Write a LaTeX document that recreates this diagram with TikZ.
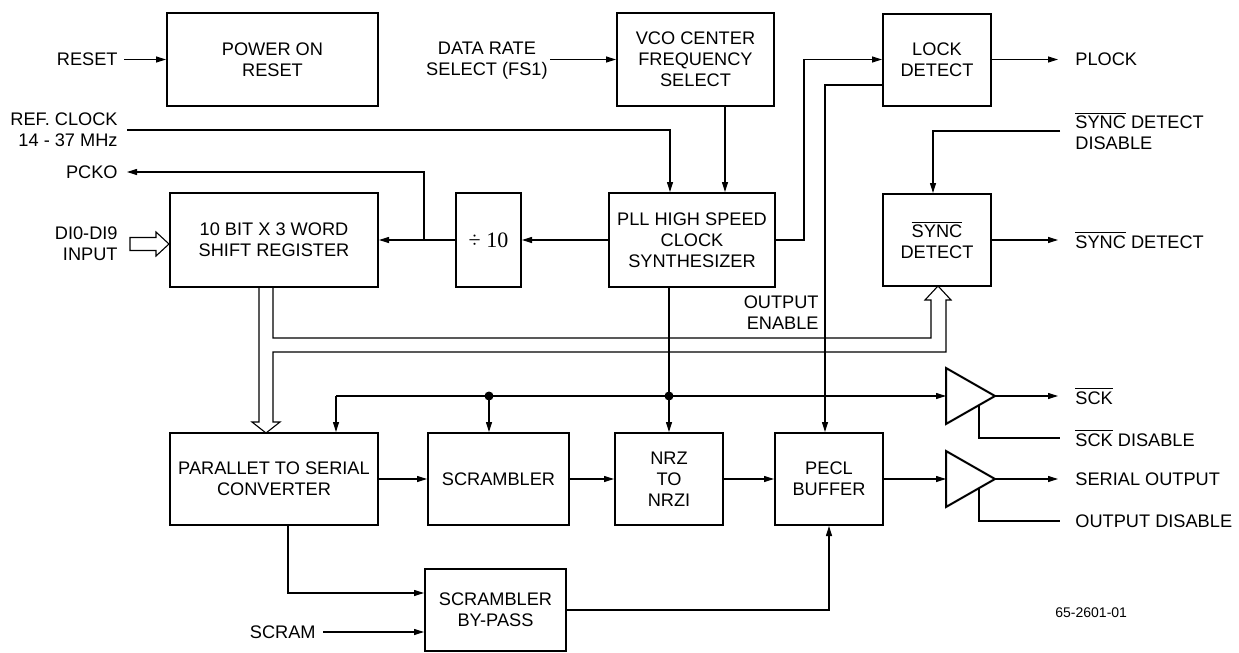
\documentclass[tikz,border=0pt]{standalone}
\usepackage{fontspec}
\setmainfont{Liberation Sans}
\newfontfamily\serifdiv{Liberation Serif}
\usetikzlibrary{arrows.meta}
\newcommand{\ovl}[1]{$\overline{\mbox{#1}}$}
\begin{document}
\begin{tikzpicture}[x=0.5pt,y=-0.5pt,
  every node/.style={font=\fontsize{9.1}{10.5}\selectfont},
  blk/.style={draw,line width=1pt,align=center,inner sep=0pt},
  con/.style={line width=0.55pt},
  arr/.style={con,-{Triangle[length=5pt,width=3pt]}},
  lbl/.style={inner sep=0pt,align=left,anchor=west},
  lblr/.style={inner sep=0pt,align=right,anchor=east},
  jdot/.style={circle,fill,inner sep=0pt,minimum size=4.5pt},
  buf/.style={line width=1pt,line join=miter}]
\useasboundingbox (0,0) rectangle (1239,653);

% blocks
\node[blk,minimum width=105.5pt,minimum height=46.5pt] (por) at (272.5,59.5) {POWER ON\\RESET};
\node[blk,minimum width=78.5pt,minimum height=46.5pt] (vco) at (695.5,59.5) {VCO CENTER\\FREQUENCY\\SELECT};
\node[blk,minimum width=54pt,minimum height=46pt] (lock) at (937,59.5) {LOCK\\DETECT};
\node[blk,minimum width=104pt,minimum height=47pt] (sr) at (274,240) {10 BIT X 3 WORD\\SHIFT REGISTER};
\node[blk,minimum width=32.5pt,minimum height=47pt,font=\serifdiv\fontsize{11}{12}\selectfont] (div) at (488.5,240) {÷ 10};
\node[blk,minimum width=83pt,minimum height=47pt] (pll) at (692,240) {PLL HIGH SPEED\\CLOCK\\SYNTHESIZER};
\node[blk,minimum width=54pt,minimum height=46pt] (sync) at (937,240) {\ovl{SYNC}\\DETECT};
\node[blk,minimum width=104pt,minimum height=46pt] (ps) at (274,479) {PARALLET TO SERIAL\\CONVERTER};
\node[blk,minimum width=70.5pt,minimum height=46pt] (scr) at (498.5,479) {SCRAMBLER};
\node[blk,minimum width=54pt,minimum height=46pt] (nrz) at (669,479) {NRZ\\TO\\NRZI};
\node[blk,minimum width=54pt,minimum height=46pt] (pecl) at (829,479) {PECL\\BUFFER};
\node[blk,minimum width=70.5pt,minimum height=41pt] (byp) at (495.5,610) {SCRAMBLER\\BY-PASS};

% labels
\node[lblr] (rst) at (118,59.5) {RESET};
\node[lblr] (refc) at (118,130) {REF. CLOCK\\14 - 37 MHz};
\node[lblr] (pcko) at (118,172) {PCKO};
\node[lblr] (di) at (118,244) {DI0-DI9\\INPUT};
\node[lblr] (scram) at (316,632) {SCRAM};
\node[align=center,inner sep=0pt,anchor=east] (drs) at (548,61) {DATA RATE\\SELECT (FS1)};
\node[lblr] (oe) at (819,313) {OUTPUT\\ENABLE};
\node[lbl] (plock) at (1075,59.5) {PLOCK};
\node[lbl] (sdd) at (1075,131) {\ovl{SYNC} DETECT\\DISABLE};
\node[lbl] (sdo) at (1075,240) {\ovl{SYNC} DETECT};
\node[lbl] (sck) at (1075,396) {\ovl{SCK}};
\node[lbl] (sckd) at (1075,438) {\ovl{SCK} DISABLE};
\node[lbl] (ser) at (1075,479) {SERIAL OUTPUT};
\node[lbl] (od) at (1075,521) {OUTPUT DISABLE};
\node[lbl,font=\fontsize{7}{8}\selectfont] (fig) at (1055,613) {65-2601-01};

% helper coordinates
\coordinate (refx) at (670,0);
\coordinate (vcox) at (725,0);
\coordinate (pj) at (424,240);
\coordinate (lkx) at (804,0);
\coordinate (oes) at (883,85);
\coordinate (oex) at (825,0);
\coordinate (sdx) at (933,0);
\coordinate (clk) at (0,396);
\coordinate (psx) at (336,0);
\coordinate (scx) at (489,0);
\coordinate (psb) at (288,0);
\coordinate (bya) at (0,593);
\coordinate (t1l) at (946,396);
\coordinate (t1a) at (995,396);
\coordinate (t1b) at (979,405);
\coordinate (t2l) at (946,479);
\coordinate (t2a) at (995,479);
\coordinate (t2b) at (979,488);

% top connectors
\draw[arr,shorten <=3pt] (rst.east) -- (rst.east -| por.west);
\draw[arr,shorten <=1pt] (drs.east |- vco.west) -- (vco.west);
\draw[arr,shorten <=4.5pt] (refc.east) -| (pll.north -| refx);
\draw[arr] (vco.south -| vcox) -- (pll.north -| vcox);
\draw[arr] (pll.west) -- (div.west -| div.east);
\draw[arr] (div.west) -- (sr.east);
\draw[arr,shorten >=4.5pt] (pj) |- (pcko.east);
\draw[arr] (pll.east) -- (pll.east -| lkx) |- (lock.west);
\draw[arr,shorten >=8.5pt] (lock.east) -- (plock.west);
\draw[arr] (oes) -| (pecl.north -| oex);
\draw[arr,shorten <=7.5pt] (sdd.west) -| (sync.north -| sdx);
\draw[arr,shorten >=8.5pt] (sync.east) -- (sdo.west);

% DI input hollow arrow
\draw[con,fill=white] (130,237.5) -- (156,237.5) -- (156,232) -- (169,244) -- (156,256) -- (156,250.5) -- (130,250.5) -- cycle;

% data bus
\draw[con,line join=miter] (259,287) -- (259,422) -- (252,422) -- (266,433) -- (280,422) -- (273,422) -- (273,352)
  -- (946,352) -- (946,300) -- (951,300) -- (938,286) -- (925,300) -- (931,300) -- (931,338) -- (273,338) -- (273,287);

% clock distribution
\draw[arr] (pll.south -| nrz.north) -- (nrz.north);
\draw[arr] (clk -| psx) -- (t1l);
\draw[arr] (clk -| psx) -- (ps.north -| psx);
\draw[arr] (clk -| scx) -- (scr.north -| scx);
\node[jdot] (d1) at (clk -| scx) {};
\node[jdot] (d2) at (clk -| nrz.north) {};

% output buffers
\draw[buf] (946,368) -- (t1a) -- (946,424) -- cycle;
\draw[buf] (946,451) -- (t2a) -- (946,507) -- cycle;
\draw[arr,shorten >=8.5pt] (t1a) -- (sck.west);
\draw[con,shorten >=7.5pt] (t1b) |- (sckd.west);
\draw[arr] (pecl.east) -- (t2l);
\draw[arr,shorten >=8.5pt] (t2a) -- (ser.west);
\draw[con,shorten >=7.5pt] (t2b) |- (od.west);

% serial path
\draw[arr] (ps.east) -- (scr.west);
\draw[arr] (scr.east) -- (nrz.west);
\draw[arr] (nrz.east) -- (pecl.west);
\draw[arr] (ps.south -| psb) |- (byp.west |- bya);
\draw[arr,shorten <=3.5pt] (scram.east) -- (scram.east -| byp.west);
\draw[arr] (byp.east) -| (pecl.south);
\end{tikzpicture}
\end{document}
